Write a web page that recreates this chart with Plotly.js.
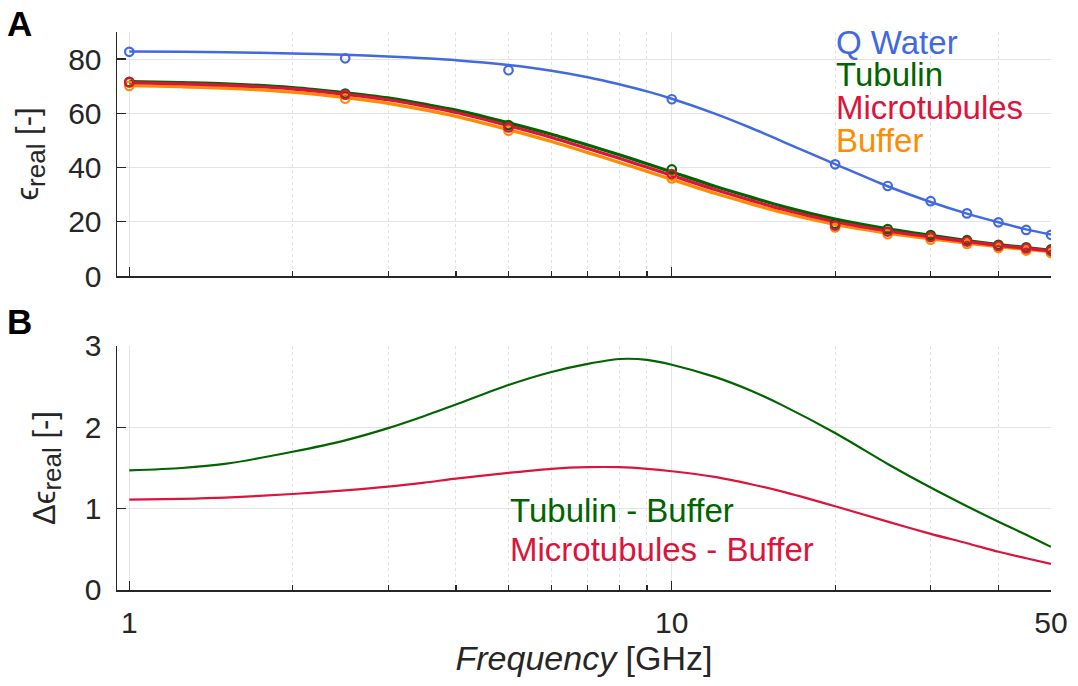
<!DOCTYPE html>
<html>
<head>
<meta charset="utf-8">
<script src="https://cdn.plot.ly/plotly-3.0.1.min.js"></script>
<style>html,body{margin:0;padding:0;background:#fff;}#chart{width:1078px;height:686px;}</style>
</head>
<body>
<div id="chart"></div>
<script>
// Measured points (top panel)
const freqPts = [1, 2.5, 5, 10, 20, 25, 30, 35, 40, 45, 50];
const waterPts = [82.7, 80.3, 75.9, 65.2, 41.2, 33.2, 27.6, 23.1, 19.8, 17.0, 15.2];
const tubulinPts = [71.6, 67.3, 55.7, 39.3, 19.3, 17.3, 15.1, 13.2, 11.5, 10.6, 9.8];
const microPts = [71.4, 66.9, 54.8, 37.6, 18.6, 16.4, 14.4, 12.7, 11.1, 10.2, 9.3];
const bufferPts = [70.1, 65.4, 53.6, 36.0, 17.9, 15.4, 13.4, 11.8, 10.3, 9.4, 8.5];

// Fitted curves
const freqFit = [1, 1.25, 1.5, 2, 2.5, 3, 3.5, 4, 5, 6, 7, 8, 9, 10, 12, 14, 16, 20, 25, 30, 35, 40, 45, 50];
const waterFit = [82.8, 82.7, 82.5, 82.1, 81.6, 81.0, 80.3, 79.6, 77.8, 75.7, 73.3, 70.7, 68.1, 65.4, 59.9, 54.6, 49.6, 41.3, 33.1, 27.3, 23.0, 19.8, 17.2, 15.3];
const tubulinFit = [71.7, 71.3, 70.9, 69.5, 67.6, 65.7, 63.4, 61.2, 56.5, 52.3, 48.3, 44.7, 41.4, 38.4, 33.1, 29.1, 25.7, 21.0, 17.4, 15.0, 13.1, 11.6, 10.5, 9.5];
const microFit = [71.3, 70.9, 70.4, 69.0, 67.0, 65.0, 62.6, 60.3, 55.4, 51.1, 47.0, 43.4, 40.1, 37.1, 31.9, 27.9, 24.6, 20.0, 16.6, 14.4, 12.7, 11.3, 10.2, 9.3];
const bufferFit = [70.2, 69.8, 69.3, 67.8, 65.8, 63.7, 61.3, 58.9, 54.0, 49.6, 45.5, 41.9, 38.6, 35.6, 30.5, 26.6, 23.4, 19.0, 15.8, 13.7, 12.1, 10.8, 9.8, 9.0];

// Differences (bottom panel)
const diffTubulin = [1.47, 1.50, 1.55, 1.70, 1.84, 1.99, 2.14, 2.28, 2.52, 2.68, 2.78, 2.84, 2.83, 2.77, 2.62, 2.45, 2.27, 1.93, 1.55, 1.26, 1.03, 0.84, 0.68, 0.53];
const diffMicro = [1.11, 1.12, 1.135, 1.18, 1.225, 1.27, 1.32, 1.37, 1.44, 1.49, 1.51, 1.51, 1.49, 1.46, 1.39, 1.30, 1.21, 1.03, 0.84, 0.69, 0.575, 0.47, 0.39, 0.32];

const seriesNames = ['Q Water', 'Tubulin', 'Microtubules', 'Buffer'];
const diffNames = ['Tubulin - Buffer', 'Microtubules - Buffer'];
const xTicks = [1, 10, 50];
const xMinor = [2, 3, 4, 5, 6, 7, 8, 9, 20, 30, 40];
const yTicksTop = [0, 20, 40, 60, 80];
const yTicksBot = [0, 1, 2, 3];

const C = {water: '#4169E1', tub: '#006400', mic: '#DC143C', buf: '#FF8C00'};
const AX = '#262626';

function lineTr(x, y, color, w, xa, ya) {
  return {x: x, y: y, type: 'scatter', mode: 'lines', xaxis: xa, yaxis: ya,
    line: {color: color, width: w, shape: 'spline', smoothing: 0.8}, hoverinfo: 'skip'};
}
function markTr(x, y, color, xa, ya) {
  return {x: x, y: y, type: 'scatter', mode: 'markers', xaxis: xa, yaxis: ya,
    marker: {symbol: 'circle-open', size: 8.5, color: color, line: {width: 2.2, color: color}}, hoverinfo: 'skip'};
}

const data = [
  lineTr(freqFit, waterFit, C.water, 2.5, 'x', 'y'),
  markTr(freqPts, waterPts, C.water, 'x', 'y'),
  lineTr(freqFit, bufferFit, C.buf, 3.2, 'x', 'y'),
  lineTr(freqFit, tubulinFit, C.tub, 3.2, 'x', 'y'),
  lineTr(freqFit, microFit, C.mic, 3.2, 'x', 'y'),
  markTr(freqPts, bufferPts, C.buf, 'x', 'y'),
  markTr(freqPts, tubulinPts, C.tub, 'x', 'y'),
  markTr(freqPts, microPts, C.mic, 'x', 'y'),
  lineTr(freqFit, diffTubulin, C.tub, 2.2, 'x2', 'y2'),
  lineTr(freqFit, diffMicro, C.mic, 2.2, 'x2', 'y2')
];

function xAxis(anchor, showLabels) {
  return {
    type: 'log', range: [-0.0227, Math.log10(50)], anchor: anchor, domain: [0, 1],
    tickmode: 'array', tickvals: xTicks, ticktext: xTicks.map(String),
    showticklabels: showLabels, ticks: 'inside', ticklen: 9, tickwidth: 1.3, tickcolor: AX,
    ticklabelstandoff: 5,
    showline: true, linecolor: AX, linewidth: 1.5, zeroline: false,
    showgrid: true, gridcolor: '#e4e4e4', gridwidth: 1,
    minor: {tickmode: 'array', tickvals: xMinor, ticks: 'inside', ticklen: 5, tickwidth: 1.2, tickcolor: AX,
      showgrid: true, gridcolor: '#e2e2e2', gridwidth: 1, griddash: 'dot'},
    tickfont: {size: 30, color: AX}
  };
}
function yAxis(anchor, domain, range, ticks, title) {
  return {
    anchor: anchor, domain: domain, range: range, tickmode: 'array', tickvals: ticks,
    ticks: 'inside', ticklen: 9, tickwidth: 1.3, tickcolor: AX, ticklabelstandoff: 8,
    showline: true, linecolor: AX, linewidth: 1.5, zeroline: false,
    showgrid: true, gridcolor: '#e4e4e4', gridwidth: 1,
    tickfont: {size: 30, color: AX},
    title: {text: title, font: {size: 31, color: AX}, standoff: 20}
  };
}

const xa2 = xAxis('y2', true);
xa2.title = {text: '<i>Frequency</i> [GHz]', font: {size: 34, color: AX}, standoff: 8};

const subStyle = '<span style="font-size:26px">real</span>';
const legendColors = [C.water, C.tub, C.mic, C.buf];
const legendY = [0.982, 0.923, 0.864, 0.806];
const annotations = seriesNames.map((n, i) => ({
  text: n, xref: 'paper', yref: 'paper', x: 0.768, y: legendY[i], xanchor: 'left', yanchor: 'middle',
  showarrow: false, font: {size: 33, color: legendColors[i]}
}));
annotations.push({text: diffNames[0], xref: 'paper', yref: 'paper', x: 0.419, y: 0.143, xanchor: 'left', yanchor: 'middle', showarrow: false, font: {size: 33, color: C.tub}});
annotations.push({text: diffNames[1], xref: 'paper', yref: 'paper', x: 0.419, y: 0.072, xanchor: 'left', yanchor: 'middle', showarrow: false, font: {size: 33, color: C.mic}});
annotations.push({text: '<b>A</b>', xref: 'paper', yref: 'paper', x: -0.12, y: 1.016, xanchor: 'left', yanchor: 'middle', showarrow: false, font: {size: 35, color: '#000'}});
annotations.push({text: '<b>B</b>', xref: 'paper', yref: 'paper', x: -0.12, y: 0.482, xanchor: 'left', yanchor: 'middle', showarrow: false, font: {size: 35, color: '#000'}});

const layout = {
  width: 1078, height: 686,
  margin: {l: 117, r: 27, t: 32, b: 96},
  paper_bgcolor: '#fff', plot_bgcolor: '#fff',
  showlegend: false,
  font: {family: 'Liberation Sans, Arial, Helvetica, sans-serif', color: AX, size: 30},
  xaxis: xAxis('y', false),
  yaxis: yAxis('x', [0.5627, 1], [0, 90], yTicksTop, 'ϵ<sub>' + subStyle + '</sub> [-]'),
  xaxis2: xa2,
  yaxis2: yAxis('x2', [0, 0.4373], [0, 3], yTicksBot, 'Δϵ<sub>' + subStyle + '</sub> [-]'),
  annotations: annotations
};

Plotly.newPlot('chart', data, layout, {staticPlot: true, displayModeBar: false});
</script>
</body>
</html>
